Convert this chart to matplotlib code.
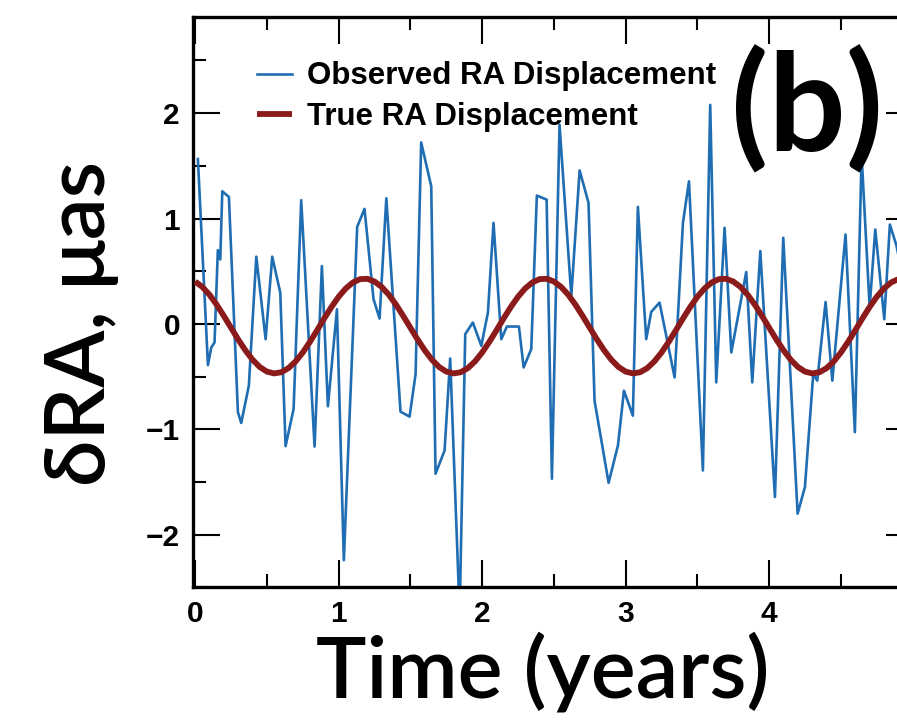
import matplotlib
matplotlib.use("Agg")
import matplotlib.pyplot as plt
from matplotlib.ticker import MultipleLocator
import numpy as np

# ---------------- data ----------------
obs_time = [0.019, 0.089, 0.112, 0.135, 0.158, 0.175, 0.189, 0.235, 0.298, 0.321,
            0.374, 0.426, 0.491, 0.537, 0.593, 0.630, 0.686, 0.739, 0.832, 0.883,
            0.925, 0.988, 1.036, 1.129, 1.180, 1.243, 1.285, 1.332, 1.431, 1.494,
            1.536, 1.575, 1.645, 1.675, 1.738, 1.777, 1.843, 1.882, 1.935, 1.994,
            2.040, 2.079, 2.133, 2.172, 2.256, 2.289, 2.342, 2.381, 2.449, 2.486,
            2.539, 2.621, 2.679, 2.741, 2.783, 2.881, 2.946, 2.988, 3.050, 3.085,
            3.143, 3.178, 3.236, 3.341, 3.399, 3.441, 3.538, 3.589, 3.631, 3.689,
            3.736, 3.840, 3.882, 3.938, 4.040, 4.098, 4.198, 4.249, 4.307, 4.335,
            4.393, 4.440, 4.532, 4.597, 4.644, 4.700, 4.739, 4.802, 4.841, 4.888,
            4.950]
obs_ra = [1.565, -0.391, -0.224, -0.176, 0.700, 0.612, 1.259, 1.205, -0.839, -0.940,
          -0.587, 0.638, -0.145, 0.638, 0.297, -1.160, -0.807, 1.174, -1.164, 0.549,
          -0.782, 0.139, -2.243, 0.921, 1.092, 0.234, 0.051, 1.193, -0.833, -0.880,
          -0.476, 1.722, 1.306, -1.422, -1.202, -0.328, -2.750, -0.097, 0.013, -0.208,
          0.108, 0.959, -0.145, -0.025, -0.025, -0.413, -0.239, 1.218, 1.180, -1.470,
          1.890, 0.265, 1.457, 1.149, -0.729, -1.508, -1.154, -0.634, -0.871, 1.111,
          -0.145, 0.114, 0.202, -0.508, 0.959, 1.353, -1.391, 2.079, -0.555, 0.912,
          -0.271, 0.492, -0.555, 0.691, -1.643, 0.817, -1.801, -1.548, -0.476, -0.539,
          0.208, -0.539, 0.849, -1.028, 1.600, 0.155, 0.896, 0.044, 0.943, 0.738,
          0.300]

true_time = np.linspace(0.0, 5.0, 101)
true_ra = [0.402, 0.351, 0.276, 0.182, 0.075, -0.037, -0.148, -0.251, -0.340, -0.409,
           -0.453, -0.470, -0.459, -0.420, -0.356, -0.271, -0.170, -0.060, 0.053, 0.161,
           0.258, 0.337, 0.394, 0.425, 0.428,
           0.402, 0.351, 0.276, 0.182, 0.075, -0.037, -0.148, -0.251, -0.340, -0.409,
           -0.453, -0.470, -0.459, -0.420, -0.356, -0.271, -0.170, -0.060, 0.053, 0.161,
           0.258, 0.337, 0.394, 0.425, 0.428,
           0.402, 0.351, 0.276, 0.182, 0.075, -0.037, -0.148, -0.251, -0.340, -0.409,
           -0.453, -0.470, -0.459, -0.420, -0.356, -0.271, -0.170, -0.060, 0.053, 0.161,
           0.258, 0.337, 0.394, 0.425, 0.428,
           0.402, 0.351, 0.276, 0.182, 0.075, -0.037, -0.148, -0.251, -0.340, -0.409,
           -0.453, -0.470, -0.459, -0.420, -0.356, -0.271, -0.170, -0.060, 0.053, 0.161,
           0.258, 0.337, 0.394, 0.425, 0.428,
           0.402]

x_ticks = [0, 1, 2, 3, 4]
y_ticks = [-2, -1, 0, 1, 2]
y_tick_labels = ["\u22122", "\u22121", "0", "1", "2"]
legend_labels = ["Observed RA Displacement", "True RA Displacement"]
x_label = "Time (years)"
y_label = "\u03b4RA, \u03bcas"
panel_label = "(b)"

# ---------------- style ----------------
W, H = 897, 720
fig = plt.figure(figsize=(W / 100, H / 100), dpi=100)

left_px, right_px, top_px, bottom_px = 193.3, 912.7, 17.3, 587.3
ax = fig.add_axes([left_px / W, 1 - bottom_px / H,
                   (right_px - left_px) / W, (bottom_px - top_px) / H])

blue = "#1f6db3"
red = "#8b1a1a"

ax.plot(obs_time, obs_ra, color=blue, lw=1.9, label=legend_labels[0], zorder=2)
ax.plot(true_time, true_ra, color=red, lw=4.2, label=legend_labels[1], zorder=3,
        solid_capstyle="butt")

ax.set_xlim(-0.013, 5.0)
ax.set_ylim(-2.5, 2.91)

ax.set_xticks(x_ticks)
ax.set_yticks(y_ticks)
ax.set_yticklabels(y_tick_labels)
ax.xaxis.set_minor_locator(MultipleLocator(0.5))
ax.yaxis.set_minor_locator(MultipleLocator(0.5))

for lab in ax.get_xticklabels() + ax.get_yticklabels():
    lab.set_fontfamily("Liberation Sans")
    lab.set_fontweight("bold")
    lab.set_fontsize(21.5)

ax.tick_params(which="both", direction="in", top=True, right=True, colors="black")
ax.tick_params(which="major", length=19.5, width=1.5, pad=9.5)
ax.tick_params(which="minor", length=9.5, width=1.5)
for s in ax.spines.values():
    s.set_linewidth(2.4)

leg = ax.legend(loc="upper left", bbox_to_anchor=(0.088, 0.9225), frameon=False,
                prop=dict(family="Liberation Sans", weight="bold", size=22.5),
                handlelength=1.12, handletextpad=0.48, labelspacing=0.34,
                borderpad=0.0, borderaxespad=0.0)

big_family = ["Lato", "Open Sans", "DejaVu Sans"]
fig.text(543 / W, 1 - 698 / H, x_label, ha="center", va="baseline",
         family=big_family, weight="semibold", fontsize=61)
fig.text(119 / W, 1 - 323.5 / H, y_label, ha="right", va="center", rotation=90,
         family=big_family, weight="semibold", fontsize=60)
fig.text(807 / W, 1 - 110 / H, panel_label, ha="center", va="center",
         family=big_family, weight="bold", fontsize=98)

fig.savefig("out.png", dpi=100)
